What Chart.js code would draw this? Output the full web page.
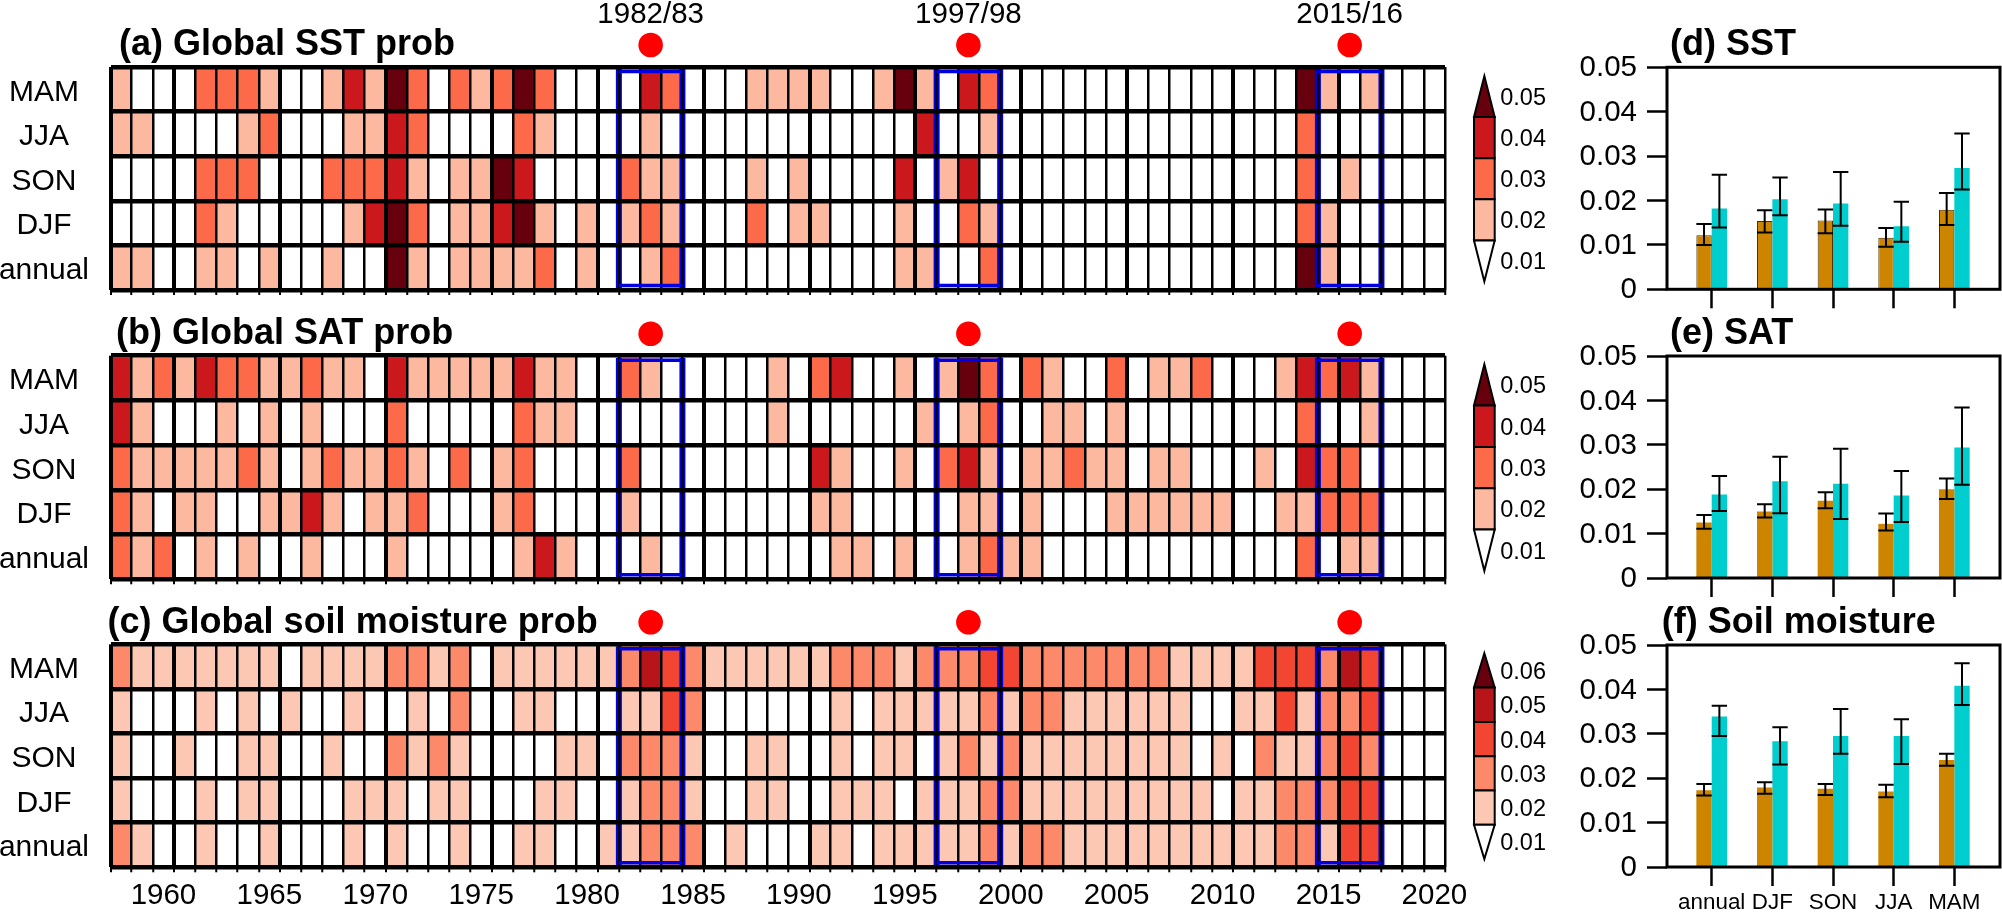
<!DOCTYPE html>
<html>
<head>
<meta charset="utf-8">
<title>Global prob</title>
<script src="https://cdn.jsdelivr.net/npm/chart.js@4"></script>
<style>
html, body { margin: 0; padding: 0; background: #fff; }
canvas { position: absolute; }
</style>
</head>
<body>
<canvas id="heatA" width="1555" height="305" style="left:0;top:0"></canvas>
<canvas id="heatB" width="1555" height="295" style="left:0;top:305px"></canvas>
<canvas id="heatC" width="1555" height="313" style="left:0;top:600px"></canvas>
<canvas id="barD" width="442" height="310" style="left:1560px;top:0"></canvas>
<canvas id="barE" width="442" height="290" style="left:1560px;top:310px"></canvas>
<canvas id="barF" width="442" height="313" style="left:1560px;top:600px"></canvas>
<script>
var FONT = '"Liberation Sans", Arial, sans-serif';

var years = [];
for (var yr = 1958; yr <= 2020; yr++) years.push(yr);
var rowLabels = ['MAM', 'JJA', 'SON', 'DJF', 'annual'];
var eventYears = [1983, 1998, 2016];
var eventLabels = ['1982/83', '1997/98', '2015/16'];
var eventBoxes = [[1982, 1984], [1997, 1999], [2015, 2017]];

// heat map cells: binned probability x 100, one number per year 1958-2020
var sstMAM = [2,1,1,1,3,3,3,2,1,1,2,4,2,5,3,1,3,2,3,5,3,1,1,1,1,4,3,1,1,1,2,2,2,2,1,1,2,5,2,1,4,3,1,1,1,1,1,1,1,1,1,1,1,1,1,1,5,2,1,2,1,1,1];
var sstJJA = [2,2,1,1,1,1,2,3,1,1,1,2,2,4,3,1,1,1,1,3,2,1,1,1,1,2,1,1,1,1,1,1,1,1,1,1,1,1,4,1,1,2,1,1,1,1,1,1,1,1,1,1,1,1,1,1,3,1,1,1,1,1,1];
var sstSON = [1,1,1,1,3,3,3,1,1,1,3,3,3,4,2,1,2,2,5,4,1,1,1,1,3,2,2,1,1,1,2,1,2,1,1,1,1,4,1,2,4,1,1,1,1,1,1,1,1,1,1,1,1,1,1,1,3,1,2,1,1,1,1];
var sstDJF = [1,1,1,1,3,2,1,1,1,1,1,2,4,5,3,1,2,2,4,5,2,1,2,1,2,3,2,1,1,1,3,1,2,2,1,1,1,2,1,1,3,2,1,1,1,1,1,1,1,1,1,1,1,1,1,1,3,2,1,1,1,1,1];
var sstAnn = [2,2,1,1,2,2,1,2,1,1,2,1,1,5,2,1,2,2,2,2,3,1,2,1,1,2,3,1,1,1,1,1,1,1,1,1,1,2,2,1,1,3,1,1,1,1,1,1,1,1,1,1,1,1,1,1,5,2,1,1,1,1,1];

var satMAM = [4,2,3,2,4,3,3,2,2,3,2,2,1,4,2,2,2,2,2,4,2,2,1,1,3,2,1,1,1,1,1,2,1,3,4,1,1,2,1,2,5,3,1,3,2,1,1,3,1,2,2,3,1,1,1,2,4,3,4,2,1,1,1];
var satJJA = [4,2,1,1,1,2,1,2,1,2,1,1,1,3,1,1,1,1,1,3,2,2,1,1,1,1,1,1,1,1,1,2,1,1,1,1,1,1,2,1,2,3,1,1,2,2,1,2,1,1,1,1,1,1,1,1,3,1,1,2,1,1,1];
var satSON = [3,2,2,2,2,2,3,2,1,2,3,2,2,3,2,1,3,1,2,3,1,1,1,1,3,1,1,1,1,1,1,1,1,4,2,1,1,2,1,3,4,2,1,2,2,3,2,2,1,2,2,1,1,1,2,1,4,3,3,1,1,1,1];
var satDJF = [3,2,1,2,2,1,1,2,2,4,2,1,2,2,3,1,1,1,2,3,1,1,1,1,2,1,1,1,1,1,1,1,1,2,2,1,1,1,1,1,2,2,1,2,1,1,1,2,2,2,2,2,2,1,1,2,2,3,3,3,1,1,1];
var satAnn = [3,2,3,1,2,1,2,1,1,2,1,1,1,2,1,1,1,1,1,2,4,2,1,1,1,2,1,1,1,1,1,1,1,1,2,2,1,2,1,1,2,3,2,2,1,1,1,1,1,1,1,1,1,1,1,1,3,1,2,2,1,1,1];

var soilMAM = [3,2,2,2,2,2,2,2,1,2,2,2,2,3,3,2,3,1,2,2,2,2,2,2,3,5,4,3,2,2,2,2,2,2,3,3,3,2,3,3,3,4,4,3,3,3,3,3,3,3,2,2,2,2,4,4,4,3,5,4,1,1,1];
var soilJJA = [2,1,1,1,2,1,2,1,2,1,1,2,1,1,2,1,3,1,1,2,2,1,1,1,2,2,4,3,1,1,1,1,1,1,2,1,2,2,2,2,2,3,2,3,3,2,2,2,2,2,2,1,1,2,2,4,2,3,3,4,1,1,1];
var soilSON = [2,1,1,2,1,1,2,2,1,1,2,1,1,3,2,3,2,1,1,1,1,2,2,1,3,3,3,2,1,1,2,2,1,1,2,1,2,2,1,2,3,2,3,2,2,2,2,2,2,2,2,1,2,1,3,2,2,3,4,3,1,1,1];
var soilDJF = [2,1,1,1,2,1,2,2,1,1,1,2,2,2,1,2,2,1,1,1,2,2,1,1,2,3,3,2,1,1,2,2,1,1,2,2,2,1,2,2,2,3,3,2,2,2,2,2,2,2,2,2,1,2,2,3,3,3,4,4,1,1,1];
var soilAnn = [3,2,1,1,2,1,1,2,1,1,1,2,1,2,1,1,2,1,1,2,2,1,1,2,2,3,3,3,1,2,1,1,1,2,2,1,2,2,2,2,2,3,2,3,3,2,2,2,2,2,2,2,2,2,2,3,3,2,4,4,1,1,1];

// colour of each bin, index = value above, with the colour bar labels
var sstColors = [null, '#ffffff', '#fcb9a0', '#fd6a4a', '#cb181d', '#67000d'];
var soilColors = [null, '#ffffff', '#fcc8b4', '#fc8a6a', '#f24632', '#b71519', '#67000d'];
var sstBarLabels = ['0.05', '0.04', '0.03', '0.02', '0.01'];
var soilBarLabels = ['0.06', '0.05', '0.04', '0.03', '0.02', '0.01'];

// right hand panels
var seasons = ['annual', 'DJF', 'SON', 'JJA', 'MAM'];
var probTicks = ['0', '0.01', '0.02', '0.03', '0.04', '0.05'];

var sstBrown = [0.0122, 0.0154, 0.0155, 0.0116, 0.0179];
var sstBrownLow = [0.0100, 0.0128, 0.0126, 0.0096, 0.0145];
var sstBrownHigh = [0.0147, 0.0178, 0.0180, 0.0138, 0.0217];
var sstCyan = [0.0182, 0.0203, 0.0193, 0.0142, 0.0273];
var sstCyanLow = [0.0139, 0.0167, 0.0143, 0.0107, 0.0225];
var sstCyanHigh = [0.0258, 0.0252, 0.0264, 0.0197, 0.0351];

var satBrown = [0.0125, 0.0150, 0.0174, 0.0122, 0.0200];
var satBrownLow = [0.0111, 0.0136, 0.0157, 0.0107, 0.0178];
var satBrownHigh = [0.0142, 0.0166, 0.0193, 0.0145, 0.0224];
var satCyan = [0.0188, 0.0218, 0.0212, 0.0186, 0.0294];
var satCyanLow = [0.0151, 0.0146, 0.0133, 0.0126, 0.0210];
var satCyanHigh = [0.0230, 0.0273, 0.0291, 0.0241, 0.0384];

var soilBrown = [0.0173, 0.0179, 0.0176, 0.0170, 0.0241];
var soilBrownLow = [0.0161, 0.0165, 0.0162, 0.0157, 0.0228];
var soilBrownHigh = [0.0187, 0.0191, 0.0187, 0.0185, 0.0255];
var soilCyan = [0.0339, 0.0283, 0.0295, 0.0295, 0.0408];
var soilCyanLow = [0.0295, 0.0231, 0.0255, 0.0232, 0.0365];
var soilCyanHigh = [0.0363, 0.0315, 0.0356, 0.0333, 0.0459];

Chart.defaults.animation = false;
Chart.defaults.responsive = false;
Chart.defaults.devicePixelRatio = 1;
Chart.defaults.plugins.legend.display = false;
Chart.defaults.plugins.tooltip.enabled = false;

function text(ctx, str, x, y, font, align) {
  ctx.save();
  ctx.fillStyle = '#000';
  ctx.font = font;
  ctx.textAlign = align || 'left';
  ctx.textBaseline = 'alphabetic';
  ctx.fillText(str, x, y);
  ctx.restore();
}

function drawColorBar(ctx, x0, x1, top, step, colors, labels) {
  var n = colors.length - 1;
  var mid = (x0 + x1) / 2;
  ctx.save();
  ctx.strokeStyle = '#000';
  ctx.lineWidth = 2;
  for (var i = 0; i < n; i++) {
    var y0 = top + i * step, y1 = y0 + step;
    ctx.beginPath();
    if (i === 0) {
      ctx.moveTo(mid, y0); ctx.lineTo(x1, y1); ctx.lineTo(x0, y1);
    } else if (i === n - 1) {
      ctx.moveTo(x0, y0); ctx.lineTo(x1, y0); ctx.lineTo(mid, y1);
    } else {
      ctx.rect(x0, y0, x1 - x0, step);
    }
    ctx.closePath();
    ctx.fillStyle = colors[n - i];
    ctx.fill();
    ctx.stroke();
    text(ctx, labels[i], 1546, y0 + step / 2 + 8.5, '23.5px ' + FONT, 'right');
  }
  ctx.restore();
}

function heatDeco(cfg) {
  return {
    id: 'heatDeco',
    afterDatasetsDraw: function (chart) {
      var ctx = chart.ctx, x = chart.scales.x, area = chart.chartArea;
      var half = x.width / years.length / 2;
      ctx.save();
      ctx.strokeStyle = '#0000e0';
      ctx.lineWidth = 6;
      eventBoxes.forEach(function (b) {
        [x.getPixelForValue(years.indexOf(b[0])) - half, x.getPixelForValue(years.indexOf(b[1])) + half].forEach(function (px) {
          ctx.beginPath();
          ctx.moveTo(px, area.top + 2);
          ctx.lineTo(px, area.bottom - 2);
          ctx.stroke();
        });
      });
      ctx.restore();
    },
    afterDraw: function (chart) {
      var ctx = chart.ctx, x = chart.scales.x, area = chart.chartArea;
      var half = x.width / years.length / 2;
      ctx.save();
      ctx.strokeStyle = '#0000e0';
      ctx.lineWidth = 3.5;
      eventBoxes.forEach(function (b) {
        var x0 = x.getPixelForValue(years.indexOf(b[0])) - half;
        var x1 = x.getPixelForValue(years.indexOf(b[1])) + half;
        [area.top + 4.5, area.bottom - 4.5].forEach(function (py) {
          ctx.beginPath();
          ctx.moveTo(x0, py);
          ctx.lineTo(x1, py);
          ctx.stroke();
        });
      });
      ctx.fillStyle = '#ff0000';
      eventYears.forEach(function (y, i) {
        var px = x.getPixelForValue(years.indexOf(y));
        ctx.beginPath();
        ctx.arc(px, area.top - 22, 12.3, 0, Math.PI * 2);
        ctx.fill();
        if (cfg.eventText) text(ctx, eventLabels[i], px, 22.7, '29.5px ' + FONT, 'center');
      });
      ctx.restore();
      text(ctx, cfg.title, cfg.titleX, cfg.titleY, 'bold 36px ' + FONT);
      drawColorBar(ctx, 1474, 1494.7, cfg.barTop, cfg.barStep, cfg.colors, cfg.barLabels);
    }
  };
}

function noAxisPadding(s) {
  s.paddingTop = 0;
  s.paddingBottom = 0;
  s.paddingLeft = 0;
  s.paddingRight = 0;
}

function makeHeat(id, rows, cfg) {
  var datasets = rows.map(function (row, r) {
    return {
      data: row.map(function () { return [r, r + 1]; }),
      backgroundColor: row.map(function (v) { return cfg.colors[v]; }),
      barPercentage: 1,
      categoryPercentage: 1,
      grouped: false
    };
  });
  return new Chart(document.getElementById(id), {
    type: 'bar',
    data: { labels: years, datasets: datasets },
    options: {
      layout: { padding: { top: cfg.top, right: 110, left: 0, bottom: 0 } },
      scales: {
        x: {
          type: 'category',
          offset: true,
          afterFit: function (s) { s.height = cfg.axisHeight; noAxisPadding(s); },
          border: { display: false },
          grid: {
            offset: true,
            z: 1,
            color: '#000',
            tickColor: '#000',
            tickLength: 5,
            tickWidth: 2,
            lineWidth: function (c) {
              if (c.index === 0 || c.index === years.length) return 4;
              return c.index % 5 === 3 ? 4 : 2.5;
            }
          },
          ticks: {
            autoSkip: false,
            maxRotation: 0,
            padding: 6,
            color: '#000',
            font: { family: FONT, size: 29.5 },
            callback: function (v, i) {
              return cfg.yearLabels && years[i] % 5 === 0 ? String(years[i]) : '';
            }
          }
        },
        y: {
          type: 'linear',
          reverse: true,
          min: 0,
          max: 5,
          afterFit: function (s) { s.width = 110.5; noAxisPadding(s); },
          border: { display: false },
          grid: {
            z: 1,
            color: '#000',
            drawTicks: false,
            lineWidth: function (c) { return c.tick.value % 1 ? 0 : 4.5; }
          },
          ticks: {
            stepSize: 0.5,
            autoSkip: false,
            padding: 21.5,
            labelOffset: 3,
            crossAlign: 'center',
            color: '#000',
            font: { family: FONT, size: 30 },
            callback: function (v) { return v % 1 ? rowLabels[Math.floor(v)] : ''; }
          }
        }
      }
    },
    plugins: [heatDeco(cfg)]
  });
}

var barDeco = function (cfg, lows, highs) {
  return {
    id: 'barDeco',
    afterDatasetsDraw: function (chart) {
      var ctx = chart.ctx, y = chart.scales.y;
      ctx.save();
      ctx.strokeStyle = '#000';
      ctx.lineWidth = 2;
      chart.data.datasets.forEach(function (ds, d) {
        chart.getDatasetMeta(d).data.forEach(function (bar, i) {
          var lo = y.getPixelForValue(lows[d][i]), hi = y.getPixelForValue(highs[d][i]);
          var h = bar.width / 2;
          ctx.beginPath();
          ctx.moveTo(bar.x, lo); ctx.lineTo(bar.x, hi);
          ctx.moveTo(bar.x - h, lo); ctx.lineTo(bar.x + h, lo);
          ctx.moveTo(bar.x - h, hi); ctx.lineTo(bar.x + h, hi);
          ctx.stroke();
        });
      });
      ctx.restore();
    },
    afterDraw: function (chart) {
      var ctx = chart.ctx, a = chart.chartArea;
      ctx.save();
      ctx.strokeStyle = '#000';
      ctx.lineWidth = 3;
      ctx.strokeRect(a.left, a.top, a.right - a.left, a.bottom - a.top);
      ctx.restore();
      text(ctx, cfg.title, cfg.titleX, cfg.titleY, 'bold 36px ' + FONT);
    }
  };
};

function makeBars(id, brown, cyan, lows, highs, cfg) {
  function pts(arr) { return arr.map(function (v, i) { return { x: i, y: v }; }); }
  return new Chart(document.getElementById(id), {
    type: 'bar',
    data: {
      datasets: [
        { data: pts(brown), backgroundColor: '#cd8500', borderColor: cfg.outline ? '#4a3000' : '#cd8500', borderWidth: cfg.outline ? 1 : 0 },
        { data: pts(cyan), backgroundColor: '#00cdcd' }
      ]
    },
    options: {
      categoryPercentage: 0.506,
      barPercentage: 1,
      layout: { padding: { top: cfg.top, right: 2, left: 0, bottom: 0 } },
      scales: {
        x: {
          type: 'linear',
          offset: false,
          min: -0.737,
          max: 4.753,
          afterFit: function (s) { s.height = cfg.axisHeight; noAxisPadding(s); },
          border: { display: false },
          grid: { offset: false, drawOnChartArea: false, tickLength: 19, tickWidth: 2.5, tickColor: '#000' },
          ticks: {
            stepSize: 1,
            includeBounds: false,
            autoSkip: false,
            maxRotation: 0,
            padding: 3,
            color: '#000',
            font: { family: FONT, size: 22.4 },
            callback: function (v) { return cfg.seasonLabels ? seasons[v] : ''; }
          }
        },
        y: {
          min: 0,
          max: 0.05,
          afterFit: function (s) { s.width = 107; noAxisPadding(s); },
          border: { display: false },
          grid: { drawOnChartArea: false, tickLength: 20, tickWidth: 2.5, tickColor: '#000' },
          ticks: {
            stepSize: 0.01,
            padding: 10,
            labelOffset: 1,
            color: '#000',
            font: { family: FONT, size: 29.5 },
            callback: function (v, i) { return probTicks[i]; }
          }
        }
      }
    },
    plugins: [barDeco(cfg, lows, highs)]
  });
}

makeHeat('heatA', [sstMAM, sstJJA, sstSON, sstDJF, sstAnn], {
  top: 67, axisHeight: 15, colors: sstColors, barLabels: sstBarLabels,
  barTop: 76, barStep: 41.1, title: '(a) Global SST prob', titleX: 119, titleY: 55, eventText: true
});
makeHeat('heatB', [satMAM, satJJA, satSON, satDJF, satAnn], {
  top: 50.7, axisHeight: 20.7, colors: sstColors, barLabels: sstBarLabels,
  barTop: 59.3, barStep: 41.3, title: '(b) Global SAT prob', titleX: 116, titleY: 39.3
});
makeHeat('heatC', [soilMAM, soilJJA, soilSON, soilDJF, soilAnn], {
  top: 44.3, axisHeight: 45.7, colors: soilColors, barLabels: soilBarLabels,
  barTop: 53.3, barStep: 34.3, title: '(c) Global soil moisture prob', titleX: 107.6, titleY: 33, yearLabels: true
});

makeBars('barD', sstBrown, sstCyan, [sstBrownLow, sstCyanLow], [sstBrownHigh, sstCyanHigh], {
  top: 67.3, axisHeight: 20.7, title: '(d) SST', titleX: 110, titleY: 55, outline: true
});
makeBars('barE', satBrown, satCyan, [satBrownLow, satCyanLow], [satBrownHigh, satCyanHigh], {
  top: 46, axisHeight: 22, title: '(e) SAT', titleX: 110, titleY: 34.3
});
makeBars('barF', soilBrown, soilCyan, [soilBrownLow, soilCyanLow], [soilBrownHigh, soilCyanHigh], {
  top: 45, axisHeight: 46, title: '(f) Soil moisture', titleX: 101.7, titleY: 33, seasonLabels: true
});
</script>
</body>
</html>
